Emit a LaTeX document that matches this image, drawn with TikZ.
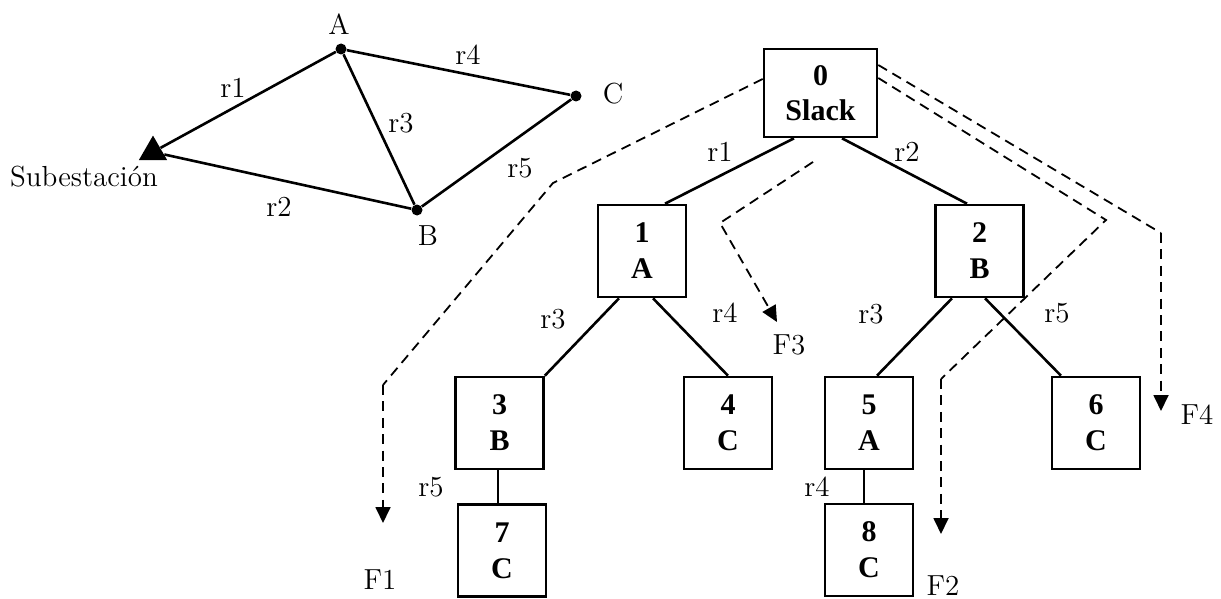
\documentclass[tikz,border=0pt]{standalone}
\usepackage{fontspec}
\newfontfamily\boxfont{Liberation Serif}
\usetikzlibrary{shapes.geometric,arrows.meta}
\begin{document}
\begin{tikzpicture}[x=0.5pt,y=-0.5pt,
  lbl/.style={font=\fontsize{14.5}{16}\selectfont, inner sep=0pt},
  bus/.style={circle,fill,inner sep=0pt,minimum size=5.5pt},
  subst/.style={regular polygon,regular polygon sides=3,fill,inner sep=0pt,minimum size=16.4pt},
  box/.style={draw,line width=1.3pt,minimum width=44pt,minimum height=46pt,align=center,
    font=\fontsize{15}{18}\selectfont\boxfont\bfseries,inner sep=0pt},
  br/.style={line width=1.3pt},
  thinbr/.style={line width=0.8pt},
  flow/.style={line width=0.9pt,dash pattern=on 5pt off 3.2pt,-{Triangle[length=8pt,width=7.5pt]}},
  flowline/.style={line width=0.9pt,dash pattern=on 5pt off 3.2pt}
]
\useasboundingbox (0,0) rectangle (1221,599);

% ---- network ----
\node[bus] (A) at (341,49) {};
\node[bus] (C) at (576,96) {};
\node[bus] (B) at (417,210) {};
\node[subst] (S) at (153,152) {};
\draw[br] (A) -- (S);
\draw[br] (S) -- (B);
\draw[br] (A) -- (C);
\draw[br] (A) -- (B);
\draw[br] (B) -- (C);
\node[lbl] (lA) at (339,24) {A};
\node[lbl] (lC) at (613,94) {C};
\node[lbl] (lB) at (428,236) {B};
\node[lbl] (lS) at (84,177) {Subestación};
\node[lbl] (n1) at (233,88) {r1};
\node[lbl] (n4) at (468,55) {r4};
\node[lbl] (n3) at (401,123) {r3};
\node[lbl] (n5) at (520,168) {r5};
\node[lbl] (n2) at (279,207) {r2};

% ---- tree ----
\node[box,minimum width=56.5pt,minimum height=44pt,font=\fontsize{15}{17.5}\selectfont\boxfont\bfseries] (b0) at (820.5,93) {0\\Slack};
\node[box] (b1) at (642,251) {1\\A};
\node[box] (b2) at (979.5,251) {2\\B};
\node[box] (b3) at (499.5,423) {3\\B};
\node[box] (b4) at (728,423) {4\\C};
\node[box] (b5) at (869,423) {5\\A};
\node[box] (b6) at (1096,423) {6\\C};
\node[box] (b7) at (502,550.5) {7\\C};
\node[box] (b8) at (869,550) {8\\C};

\draw[br] ([xshift=-13.25pt]b0.south) -- ([xshift=11.5pt]b1.north);
\draw[br] ([xshift=10.75pt]b0.south) -- ([xshift=-6.25pt]b2.north);
\draw[br] ([xshift=-11.5pt]b1.south) -- (b3.north east);
\draw[br] ([xshift=5.5pt]b1.south) -- (b4.north);
\draw[br] ([xshift=-13.75pt]b2.south) -- ([xshift=4pt]b5.north);
\draw[br] ([xshift=2.75pt]b2.south) -- ([xshift=-17.5pt]b6.north);
\draw[thinbr] ([xshift=-0.75pt]b3.south) -- ([xshift=-0.75pt]b3.south |- b7.north);
\draw[thinbr] ([xshift=-2.5pt]b5.south) -- ([xshift=-2.5pt]b5.south |- b8.north);

\node[lbl] (t1) at (720,152) {r1};
\node[lbl] (t2) at (907,152) {r2};
\node[lbl] (t3) at (553,319) {r3};
\node[lbl] (t4) at (725,313) {r4};
\node[lbl] (t5) at (871,314) {r3};
\node[lbl] (t6) at (1057,313) {r5};
\node[lbl] (t7) at (431,487) {r5};
\node[lbl] (t8) at (817,487) {r4};

% ---- flows ----
\coordinate (f1a) at (553,183);
\coordinate (f1b) at (383,385);
\coordinate (f1c) at (383,523);
\draw[flowline] ([yshift=7pt]b0.west) -- (f1a) -- (f1b);
\draw[flow] (f1b) -- (f1c);
\node[lbl] (F1) at (380,580) {F1};

\coordinate (f3s) at (813,162);
\coordinate (f3a) at (720,223);
\coordinate (f3c) at (777,322);
\draw[flow] (f3s) -- (f3a) -- (f3c);
\node[lbl] (F3) at (789,345) {F3};

\coordinate (f2a) at (1106,220);
\coordinate (f2b) at (941,379);
\coordinate (f2c) at (941,534);
\draw[flowline] ([yshift=7.5pt]b0.east) -- (f2a) -- (f2b);
\draw[flow] (f2b) -- (f2c);
\node[lbl] (F2) at (943,586) {F2};

\coordinate (f4a) at (1161,233);
\coordinate (f4c) at (1161,411);
\draw[flowline] ([yshift=14pt]b0.east) -- (f4a);
\draw[flow] (f4a) -- (f4c);
\node[lbl] (F4) at (1197,415) {F4};
\end{tikzpicture}
\end{document}
